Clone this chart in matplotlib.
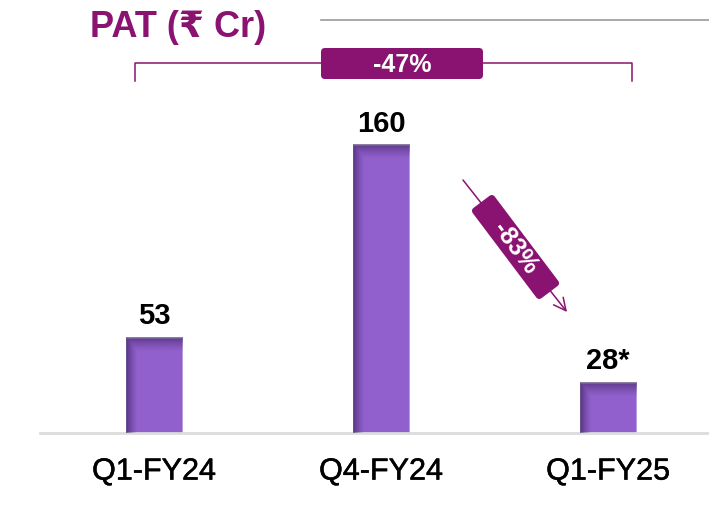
import matplotlib
matplotlib.use("Agg")
import matplotlib.pyplot as plt
import matplotlib.patheffects as pe
import numpy as np
from matplotlib.patches import FancyBboxPatch
from matplotlib.transforms import Affine2D

plt.rcParams['font.family'] = ['Liberation Sans', 'DejaVu Sans']

# data
categories = ['Q1-FY24', 'Q4-FY24', 'Q1-FY25']
pat_values = [53, 160, 28]
value_labels = ['53', '160', '28*']
yoy_change = '-47%'
qoq_change = '-83%'

purple = '#8A1270'
bar_color = '#9160CC'

fig = plt.figure(figsize=(7.09, 5.06), dpi=100)

# main axes: baseline at 434px, bars centred at 154/381/608px
ax = fig.add_axes([40 / 709, 72 / 506, 669 / 709, 434 / 506])
x = np.arange(len(categories))
bars = ax.bar(x, pat_values, width=0.247, color=bar_color, zorder=2,
              edgecolor='#b49ae0', linewidth=0.6)
ax.set_xlim(-0.502, 2.445)
ax.set_ylim(0, 241)

# darker left edge and top shading on each bar
for p in bars.patches:
    x0, y0 = p.get_x(), p.get_y()
    w, h = p.get_width(), p.get_height()
    nx, ny = 60, max(int(h * 1.8), 2)
    u = np.linspace(0, 1, nx)[None, :]
    d = (ny - 1 - np.arange(ny))[:, None]  # px from top
    left = np.clip(1 - u / 0.2, 0, 1) ** 1.3 * 0.6
    top = np.clip(1 - d / 14, 0, 1) ** 1.3 * 0.55
    alpha = np.maximum(left, top)
    img = np.zeros((ny, nx, 4))
    img[..., 0] = 50 / 255
    img[..., 1] = 25 / 255
    img[..., 2] = 85 / 255
    img[..., 3] = alpha
    ax.imshow(img, extent=(x0, x0 + w, y0, y0 + h), origin='lower',
              aspect='auto', zorder=3, interpolation='bilinear')

for xi, v, lab in zip(x, pat_values, value_labels):
    ax.annotate(lab, (xi, v), xytext=(0, 6), textcoords='offset points',
                ha='center', va='bottom', fontsize=21, fontweight='bold',
                color='black')

ax.set_xticks(x)
ax.set_xticklabels(categories, fontsize=22)
for t in ax.get_xticklabels():
    t.set_path_effects([pe.withStroke(linewidth=0.35, foreground='black')])
ax.tick_params(axis='x', length=0, pad=17)
ax.set_yticks([])
for s in ['left', 'right', 'top']:
    ax.spines[s].set_visible(False)
ax.spines['bottom'].set_color('#dcdcdc')
ax.spines['bottom'].set_linewidth(2)
ax.patch.set_alpha(0)

# overlay in pixel coordinates for the decorations
ov = fig.add_axes([0, 0, 1, 1], zorder=5)
ov.set_xlim(0, 709)
ov.set_ylim(506, 0)
ov.axis('off')
ov.patch.set_alpha(0)

ov.text(90, 37, 'PAT (₹ Cr)', fontsize=26, color=purple, ha='left',
        va='baseline', fontweight='bold')
ov.plot([321, 709], [21, 21], color='#9a9a9a', lw=1.2)

# bracket with -47%
ov.plot([135, 135, 632, 632], [82, 63.5, 63.5, 82], color=purple, lw=1.1)
ov.add_patch(FancyBboxPatch((321, 49), 162, 31,
                            boxstyle='round,pad=0,rounding_size=4',
                            fc=purple, ec='none', zorder=6))
ov.text(402, 65, yoy_change, color='white', fontsize=18, fontweight='bold',
        ha='center', va='center', zorder=7)

# diagonal arrow with -83%
ov.annotate('', xy=(567, 313), xytext=(463, 181),
            arrowprops=dict(arrowstyle='->', color=purple, lw=1.1,
                            mutation_scale=22, shrinkA=0, shrinkB=0))
cx, cy = 515.5, 248
box = FancyBboxPatch((cx - 56.5, cy - 13.75), 113, 27.5,
                     boxstyle='round,pad=0,rounding_size=4',
                     fc=purple, ec='none', zorder=6)
box.set_transform(Affine2D().rotate_deg_around(cx, cy, 53) + ov.transData)
ov.add_patch(box)
ov.text(cx, cy, qoq_change, color='white', fontsize=18, fontweight='bold',
        ha='center', va='center', rotation=-53, rotation_mode='anchor',
        zorder=7)

fig.savefig('out.png', dpi=100)
